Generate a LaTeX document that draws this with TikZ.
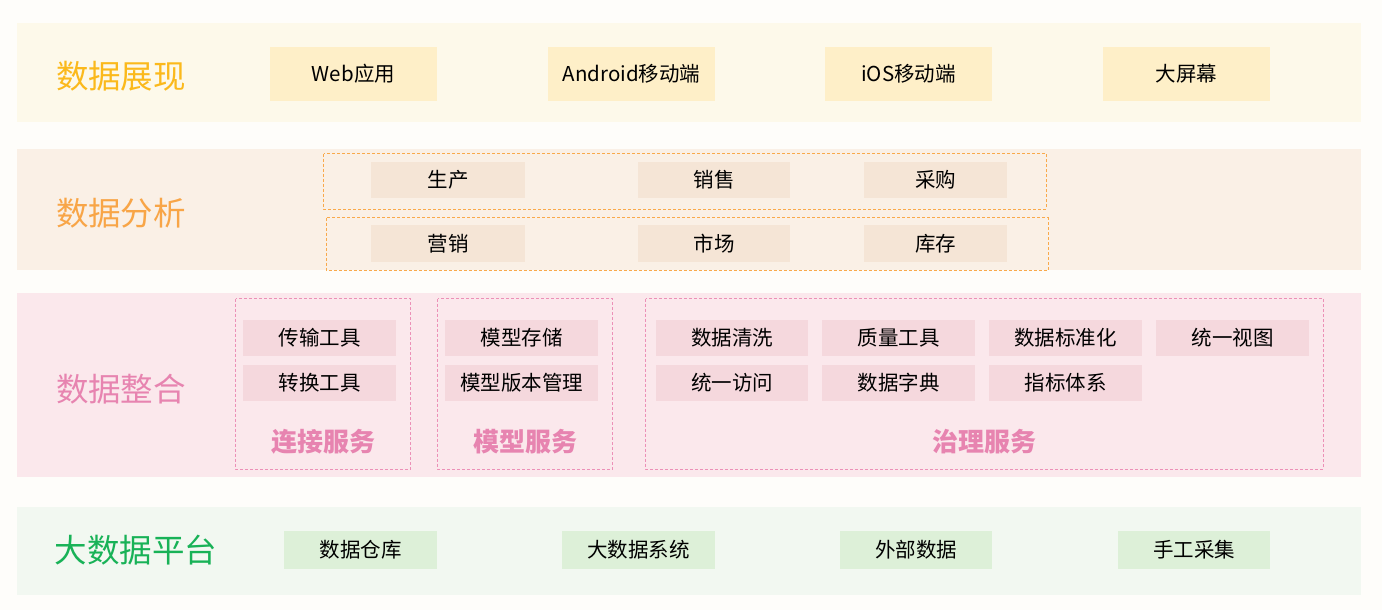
\documentclass[tikz,border=0pt]{standalone}
\usepackage{fontspec}
\setmainfont{Noto Sans CJK SC}
\newfontfamily\cjkmed{Noto Sans CJK SC Medium}
\definecolor{pagebg}{HTML}{FEFDFA}
\definecolor{b1}{HTML}{FDF9EA}
\definecolor{b2}{HTML}{FAF0E6}
\definecolor{b3}{HTML}{FBE8EC}
\definecolor{b4}{HTML}{F2F8F1}
\definecolor{c1}{HTML}{FBB91C}
\definecolor{c2}{HTML}{F8A547}
\definecolor{c3}{HTML}{E784B0}
\definecolor{c4}{HTML}{18B257}
\definecolor{f1}{HTML}{FEEFC8}
\definecolor{f2}{HTML}{F5E5D6}
\definecolor{f3}{HTML}{F5D8DD}
\definecolor{f4}{HTML}{DDF0D8}
\definecolor{d2}{HTML}{F9A94B}
\definecolor{d3}{HTML}{EC90B7}
\tikzset{
  band/.style={fill=#1, draw=none},
  title/.style={font=\fontsize{32.5}{36}\selectfont, text=#1, anchor=center},
  item/.style={font=\fontsize{20.5}{24}\selectfont, text=black, anchor=center},
  box/.style={fill=#1, draw=none},
  grp/.style={draw=#1, dashed, dash pattern=on 3pt off 2pt, line width=0.8pt},
  glabel/.style={font=\fontsize{26}{30}\selectfont\bfseries, text=c3, anchor=center}
}
\begin{document}
\begin{tikzpicture}[x=1pt,y=-1pt]
\useasboundingbox (0,0) rectangle (1382,610);
\fill[pagebg] (0,0) rectangle (1382,610);
% Band 1
\fill[band=b1] (17,23) rectangle (1361,122);
\node[title=c1] (t1) at (121,76) {数据展现};
\foreach \nm/\xa/\xb/\tx in {web/270/437/Web应用, and/548/715/Android移动端, ios/825/992/iOS移动端, big/1103/1270/大屏幕}{
  \fill[box=f1] (\xa,47) rectangle (\xb,101);
  \node[item] (\nm) at ({(\xa+\xb)/2},74) {\tx};
}
% Band 2
\fill[band=b2] (17,149) rectangle (1361,270);
\node[title=c2] (t2) at (121,213) {数据分析};
\draw[grp=d2] (323.5,153.5) rectangle (1046,209);
\draw[grp=d2] (326,217.5) rectangle (1048,270);
\foreach \nm/\xa/\xb/\tx in {sc/371/525/生产, xs/638/790/销售, cg/864/1007/采购}{
  \fill[box=f2] (\xa,162) rectangle (\xb,198);
  \node[item] (\nm) at ({(\xa+\xb)/2},180) {\tx};
}
\foreach \nm/\xa/\xb/\tx in {yx/371/525/营销, sca/638/790/市场, kc/864/1007/库存}{
  \fill[box=f2] (\xa,225) rectangle (\xb,262);
  \node[item] (\nm) at ({(\xa+\xb)/2},243.5) {\tx};
}
% Band 3
\fill[band=b3] (17,293) rectangle (1361,477);
\node[title=c3] (t3) at (121,389) {数据整合};
\draw[grp=d3] (235.5,298.5) rectangle (410.5,469);
\draw[grp=d3] (437.5,298.5) rectangle (612.5,469);
\draw[grp=d3] (645.5,298.5) rectangle (1323,469);
\foreach \nm/\xa/\xb/\ya/\tx in {cs/243/396/320/传输工具, zh/243/396/365/转换工具, mc/445/598/320/模型存储, mb/445/598/365/模型版本管理,
  qx/656/808/320/数据清洗, zl/822/975/320/质量工具, bz/989/1142/320/数据标准化, st/1156/1309/320/统一视图,
  fw/656/808/365/统一访问, zd/822/975/365/数据字典, zb/989/1142/365/指标体系}{
  \fill[box=f3] (\xa,\ya) rectangle (\xb,\ya+36);
  \node[item] (\nm) at ({(\xa+\xb)/2},\ya+18) {\tx};
}
\node[glabel] (g1) at (323,442) {连接服务};
\node[glabel] (g2) at (525,442) {模型服务};
\node[glabel] (g3) at (984,442) {治理服务};
% Band 4
\fill[band=b4] (17,507) rectangle (1361,595);
\node[title=c4] (t4) at (136,550) {大数据平台};
\foreach \nm/\xa/\xb/\tx in {ck/284/437/数据仓库, xt/562/715/大数据系统, wb/840/992/外部数据, sg/1118/1270/手工采集}{
  \fill[box=f4] (\xa,531) rectangle (\xb,569);
  \node[item] (\nm) at ({(\xa+\xb)/2},550) {\tx};
}
\end{tikzpicture}
\end{document}
